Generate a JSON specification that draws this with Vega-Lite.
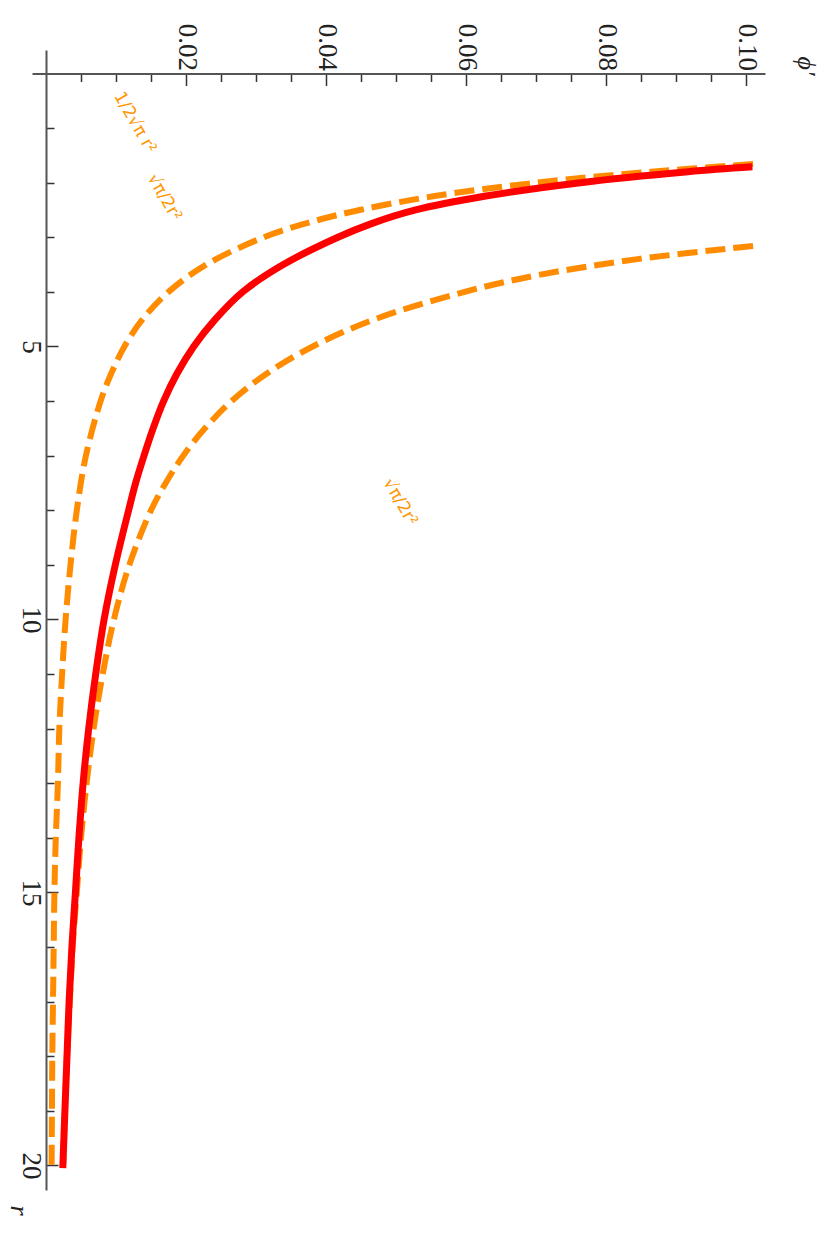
{
  "$schema": "https://vega.github.io/schema/vega-lite/v6.json",
  "autosize": {"type": "none"},
  "padding": {"left": 32, "top": 50, "right": 72, "bottom": 47},
  "width": 733,
  "height": 1140,
  "background": "white",
  "config": {"view": {"stroke": null}},
  "datasets": {
    "curves": [
      {"curve": "exact", "r": 1.71, "phi": 0.1009},
      {"curve": "exact", "r": 1.8, "phi": 0.0917},
      {"curve": "exact", "r": 2.0, "phi": 0.0763},
      {"curve": "exact", "r": 2.25, "phi": 0.0626},
      {"curve": "exact", "r": 2.5, "phi": 0.0528},
      {"curve": "exact", "r": 2.75, "phi": 0.0465},
      {"curve": "exact", "r": 3.0, "phi": 0.0417},
      {"curve": "exact", "r": 3.5, "phi": 0.0339},
      {"curve": "exact", "r": 4.0, "phi": 0.0281},
      {"curve": "exact", "r": 4.5, "phi": 0.0242},
      {"curve": "exact", "r": 5.0, "phi": 0.0211},
      {"curve": "exact", "r": 5.5, "phi": 0.0187},
      {"curve": "exact", "r": 6.0, "phi": 0.0168},
      {"curve": "exact", "r": 6.5, "phi": 0.0153},
      {"curve": "exact", "r": 7.0, "phi": 0.014},
      {"curve": "exact", "r": 7.5, "phi": 0.0128},
      {"curve": "exact", "r": 8.0, "phi": 0.0118},
      {"curve": "exact", "r": 9.0, "phi": 0.0099},
      {"curve": "exact", "r": 10.0, "phi": 0.0083},
      {"curve": "exact", "r": 11.0, "phi": 0.0071},
      {"curve": "exact", "r": 12.0, "phi": 0.0061},
      {"curve": "exact", "r": 13.0, "phi": 0.0053},
      {"curve": "exact", "r": 14.0, "phi": 0.0047},
      {"curve": "exact", "r": 15.0, "phi": 0.0042},
      {"curve": "exact", "r": 16.0, "phi": 0.0037},
      {"curve": "exact", "r": 17.0, "phi": 0.0033},
      {"curve": "exact", "r": 18.0, "phi": 0.003},
      {"curve": "exact", "r": 19.0, "phi": 0.0027},
      {"curve": "exact", "r": 20.05, "phi": 0.0024},
      {"curve": "small", "r": 1.66, "phi": 0.101},
      {"curve": "small", "r": 1.8, "phi": 0.0864},
      {"curve": "small", "r": 2.0, "phi": 0.07},
      {"curve": "small", "r": 2.25, "phi": 0.0553},
      {"curve": "small", "r": 2.5, "phi": 0.0448},
      {"curve": "small", "r": 2.75, "phi": 0.037},
      {"curve": "small", "r": 3.0, "phi": 0.0311},
      {"curve": "small", "r": 3.5, "phi": 0.0229},
      {"curve": "small", "r": 4.0, "phi": 0.0175},
      {"curve": "small", "r": 4.5, "phi": 0.0138},
      {"curve": "small", "r": 5.0, "phi": 0.0112},
      {"curve": "small", "r": 5.5, "phi": 0.0093},
      {"curve": "small", "r": 6.0, "phi": 0.0078},
      {"curve": "small", "r": 7.0, "phi": 0.0057},
      {"curve": "small", "r": 8.0, "phi": 0.0044},
      {"curve": "small", "r": 9.0, "phi": 0.0035},
      {"curve": "small", "r": 10.0, "phi": 0.0028},
      {"curve": "small", "r": 11.0, "phi": 0.0023},
      {"curve": "small", "r": 12.0, "phi": 0.0019},
      {"curve": "small", "r": 13.0, "phi": 0.0017},
      {"curve": "small", "r": 14.0, "phi": 0.0014},
      {"curve": "small", "r": 15.0, "phi": 0.0012},
      {"curve": "small", "r": 16.0, "phi": 0.0011},
      {"curve": "small", "r": 17.0, "phi": 0.001},
      {"curve": "small", "r": 18.0, "phi": 0.0009},
      {"curve": "small", "r": 19.0, "phi": 0.00085},
      {"curve": "small", "r": 20.0, "phi": 0.0008},
      {"curve": "large", "r": 3.16, "phi": 0.101},
      {"curve": "large", "r": 3.4, "phi": 0.0845},
      {"curve": "large", "r": 3.7, "phi": 0.07},
      {"curve": "large", "r": 4.0, "phi": 0.0598},
      {"curve": "large", "r": 4.5, "phi": 0.047},
      {"curve": "large", "r": 5.0, "phi": 0.0381},
      {"curve": "large", "r": 5.5, "phi": 0.0315},
      {"curve": "large", "r": 6.0, "phi": 0.0265},
      {"curve": "large", "r": 6.5, "phi": 0.0227},
      {"curve": "large", "r": 7.0, "phi": 0.0196},
      {"curve": "large", "r": 7.5, "phi": 0.0171},
      {"curve": "large", "r": 8.0, "phi": 0.015},
      {"curve": "large", "r": 9.0, "phi": 0.0119},
      {"curve": "large", "r": 10.0, "phi": 0.0097},
      {"curve": "large", "r": 11.0, "phi": 0.0081},
      {"curve": "large", "r": 12.0, "phi": 0.0068},
      {"curve": "large", "r": 13.0, "phi": 0.0058},
      {"curve": "large", "r": 14.0, "phi": 0.005},
      {"curve": "large", "r": 15.0, "phi": 0.0044},
      {"curve": "large", "r": 16.0, "phi": 0.0038},
      {"curve": "large", "r": 17.0, "phi": 0.0034},
      {"curve": "large", "r": 18.0, "phi": 0.003},
      {"curve": "large", "r": 19.0, "phi": 0.0027},
      {"curve": "large", "r": 20.0, "phi": 0.00245}
    ],
    "notes": [
      {"label": "1/2√π r²", "r": 0.9, "phi": 0.0127},
      {"label": "√π/2r²", "r": 2.27, "phi": 0.0169},
      {"label": "√π/2r²", "r": 7.85, "phi": 0.0506}
    ]
  },
  "encoding": {
    "x": {
      "field": "phi", "type": "quantitative",
      "scale": {"domain": [-0.002, 0.1027], "nice": false, "zero": false},
      "axis": {
        "orient": "top",
        "offset": -23.5,
        "values": [0.005, 0.01, 0.015, 0.02, 0.025, 0.03, 0.035, 0.04, 0.045, 0.05, 0.055, 0.06, 0.065, 0.07, 0.075, 0.08, 0.085, 0.09, 0.095, 0.1],
        "labelExpr": "abs(datum.value*50 - round(datum.value*50)) < 0.001 ? format(datum.value, '.2f') : ''",
        "grid": false,
        "domainColor": "#555555",
        "domainWidth": 2,
        "tickColor": "#333333",
        "tickWidth": 1.5,
        "tickSize": {"condition": {"test": "abs(datum.value*50 - round(datum.value*50)) < 0.001", "value": -12}, "value": -8},
        "labelAngle": 90,
        "labelAlign": "right",
        "labelBaseline": "middle",
        "labelFont": "Liberation Serif",
        "labelFontSize": 27,
        "labelColor": "#222222",
        "labelPadding": 15,
        "labelOverlap": false,
        "labelFlush": false,
        "title": "ϕ′",
        "titleFont": "Liberation Serif",
        "titleFontStyle": "italic",
        "titleFontWeight": "normal",
        "titleFontSize": 26,
        "titleColor": "#222222",
        "titleAngle": 90,
        "titleAlign": "center",
        "titleBaseline": "middle",
        "titleX": 773,
        "titleY": -8
      }
    },
    "y": {
      "field": "r", "type": "quantitative",
      "scale": {"domain": [-0.43, 20.45], "nice": false, "zero": false, "reverse": true},
      "axis": {
        "orient": "left",
        "offset": -14,
        "values": [1, 2, 3, 4, 5, 6, 7, 8, 9, 10, 11, 12, 13, 14, 15, 16, 17, 18, 19, 20],
        "labelExpr": "datum.value % 5 == 0 ? datum.label : ''",
        "grid": false,
        "domainColor": "#555555",
        "domainWidth": 2,
        "tickColor": "#333333",
        "tickWidth": 1.5,
        "tickSize": {"condition": {"test": "datum.value % 5 == 0", "value": -12}, "value": -8},
        "labelAngle": 90,
        "labelAlign": "center",
        "labelBaseline": "top",
        "labelFont": "Liberation Serif",
        "labelFontSize": 27,
        "labelColor": "#222222",
        "labelPadding": 15,
        "labelOverlap": false,
        "labelFlush": false,
        "title": "r",
        "titleFont": "Liberation Serif",
        "titleFontStyle": "italic",
        "titleFontWeight": "normal",
        "titleFontSize": 26,
        "titleColor": "#222222",
        "titleAngle": 90,
        "titleAlign": "center",
        "titleBaseline": "middle",
        "titleX": -28,
        "titleY": 1160
      }
    }
  },
  "layer": [
    {
      "data": {"name": "curves"},
      "transform": [{"filter": "datum.curve != 'exact'"}],
      "mark": {"type": "line", "color": "#ff8c00", "strokeWidth": 6, "strokeDash": [20, 8], "strokeCap": "butt", "interpolate": "catmull-rom"},
      "encoding": {
        "detail": {"field": "curve", "type": "nominal"},
        "order": {"field": "r", "type": "quantitative"}
      }
    },
    {
      "data": {"name": "curves"},
      "transform": [{"filter": "datum.curve == 'exact'"}],
      "mark": {"type": "line", "color": "#ff0000", "strokeWidth": 7, "strokeCap": "butt", "interpolate": "catmull-rom"},
      "encoding": {
        "order": {"field": "r", "type": "quantitative"}
      }
    },
    {
      "data": {"name": "notes"},
      "mark": {"type": "text", "color": "#ff9500", "font": "DejaVu Sans", "fontSize": 17, "angle": 60, "align": "center", "baseline": "middle"},
      "encoding": {
        "text": {"field": "label", "type": "nominal"}
      }
    }
  ]
}
